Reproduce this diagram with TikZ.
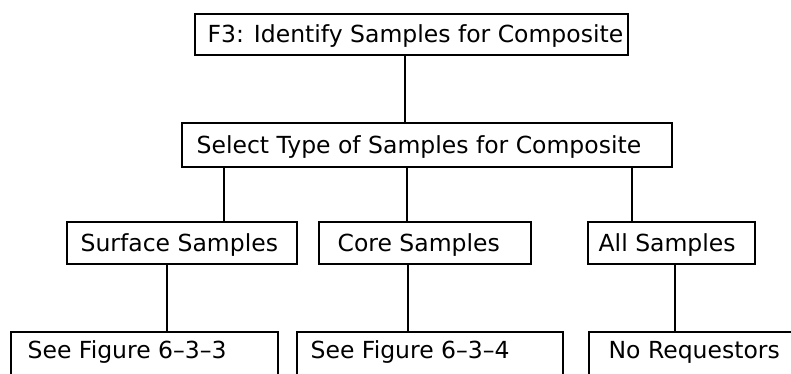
\documentclass[tikz,border=0pt]{standalone}
\usepackage{fontspec}
\setmainfont{DejaVu Sans}
\usetikzlibrary{positioning}

\begin{document}
\begin{tikzpicture}[
    x=1pt,y=-1pt,
    box/.style={draw,line width=1.1pt,minimum height=42pt,inner sep=0pt},
    lbl/.style={inner sep=0pt,font=\fontsize{23.5}{28}\selectfont,
      text height=17pt,text depth=0pt},
    link/.style={line width=1.1pt}
  ]
  \useasboundingbox (0,0) rectangle (791,374);
  \clip (0,0) rectangle (791,374);

  % Top box
  \node[box,minimum width=433pt,minimum height=41pt] (f3) at (411.5,34.5) {};
  \node[lbl,right=13pt of f3.west] (f3txt) {F3: Identify Samples for Composite};

  % Selection box
  \node[box,minimum width=490pt,minimum height=44pt] (seltype) at (427,145) {};
  \node[lbl,right=15pt of seltype.west] (seltxt) {Select Type of Samples for Composite};

  % Sample types
  \node[box,minimum width=230pt] (surface) at (182,243) {};
  \node[lbl,right=14pt of surface.west] (surftxt) {Surface Samples};
  \node[box,minimum width=212pt] (core) at (425,243) {};
  \node[lbl,right=19pt of core.west] (coretxt) {Core Samples};
  \node[box,minimum width=167pt] (allsmp) at (671.5,243) {};
  \node[lbl,right=11pt of allsmp.west] (alltxt) {All Samples};

  % Results (cut off at the bottom)
  \node[box,minimum width=267pt,minimum height=46pt] (fig633) at (144.5,355) {};
  \node[lbl,right=17pt of fig633.west,yshift=5pt] (txt633) {See Figure 6--3--3};
  \node[box,minimum width=266pt,minimum height=46pt] (fig634) at (430,355) {};
  \node[lbl,right=14pt of fig634.west,yshift=5pt] (txt634) {See Figure 6--3--4};
  \node[box,minimum width=230pt,minimum height=46pt] (noreq) at (704,355) {};
  \node[lbl,right=20pt of noreq.west,yshift=5pt] (noreqtxt) {No Requestors};

  % Connectors
  \coordinate (cTop) at (405,0);
  \coordinate (cSurf) at (224,0);
  \coordinate (cCore) at (407,0);
  \coordinate (cAll) at (632,0);
  \coordinate (c633) at (167,0);
  \coordinate (c634) at (408,0);
  \coordinate (cReq) at (675,0);
  \draw[link] (f3.south -| cTop) -- (seltype.north -| cTop);
  \draw[link] (seltype.south -| cSurf) -- (surface.north -| cSurf);
  \draw[link] (seltype.south -| cCore) -- (core.north -| cCore);
  \draw[link] (seltype.south -| cAll) -- (allsmp.north -| cAll);
  \draw[link] (surface.south -| c633) -- (fig633.north -| c633);
  \draw[link] (core.south -| c634) -- (fig634.north -| c634);
  \draw[link] (allsmp.south -| cReq) -- (noreq.north -| cReq);
\end{tikzpicture}
\end{document}
